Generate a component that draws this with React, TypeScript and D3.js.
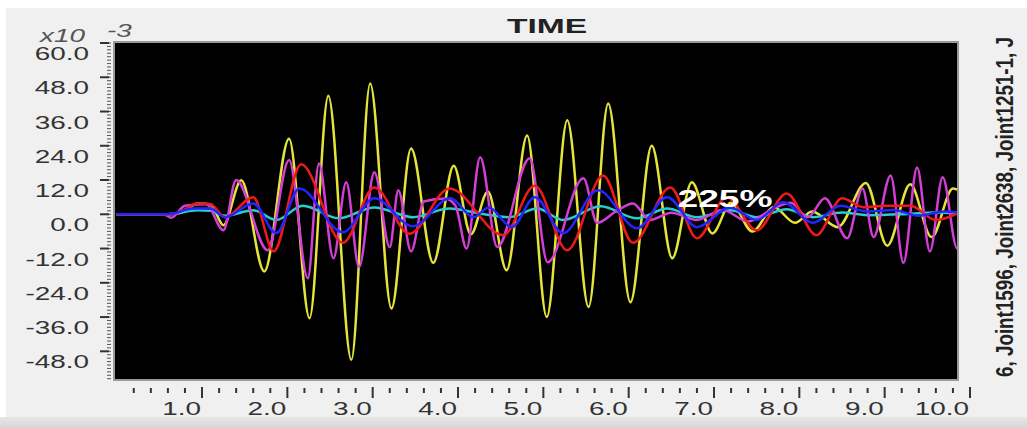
import React from "react";
import * as d3 from "d3";

// ---- data ----
const yTickValues = [60, 48, 36, 24, 12, 0, -12, -24, -36, -48];
const xTickValues = [1, 2, 3, 4, 5, 6, 7, 8, 9, 10];

const yellowT = [0, 0.6, 0.75, 0.95, 1.1, 1.25, 1.46, 1.73, 2.02, 2.26, 2.48, 2.75, 2.97, 3.22, 3.45, 3.71, 3.95, 4.15, 4.35, 4.57, 4.81, 5.04, 5.28, 5.53, 5.76, 6.02, 6.27, 6.51, 6.74, 6.98, 7.2, 7.45, 7.7, 7.95, 8.15, 8.45, 8.78, 9.03, 9.3, 9.55, 9.8, 9.9];
const yellowV = [0, 0, 0.5, 3.8, 3.5, -3.8, 11.9, -20, 26.5, -36.4, 41.5, -51, 45.8, -33, 23, -17, 17, -7, 8, -19.6, 27.6, -36, 32.9, -32.5, 38.8, -30.8, 24, -15.4, 11.2, -6.7, 4, -6, 2.5, -3, 1, -4.5, 11, -11, 10.5, -8, 9, 8];

const magentaT = [0, 0.55, 0.64, 0.8, 1.05, 1.25, 1.4, 1.77, 2.02, 2.24, 2.37, 2.54, 2.69, 2.84, 3.02, 3.2, 3.3, 3.45, 3.6, 3.85, 3.97, 4.1, 4.26, 4.46, 4.84, 5.05, 5.47, 5.63, 5.85, 6.05, 6.25, 6.5, 6.8, 7.1, 7.4, 7.7, 7.9, 8.1, 8.3, 8.56, 8.74, 8.87, 9.07, 9.22, 9.38, 9.53, 9.68, 9.85, 9.9];
const magentaV = [0, 0, -1.2, 3, 3.5, -5.6, 12, -12.6, 19, -22.4, 17.8, -15.4, 11.2, -18.5, 14.7, -11.5, 8.4, -13, 4.5, 5.5, 3, -12, 20, -11.5, 19.6, -16.8, 12.6, -3, 1, 3.8, -2, 0.5, -2, 1.5, -2.5, 2, 4, -1, 5.6, -8.4, 9, -8, 13.6, -17, 16.4, -13, 13, -12, -10];

const redT = [0, 0.6, 0.75, 0.95, 1.1, 1.27, 1.6, 1.84, 2.16, 2.65, 3.02, 3.43, 3.9, 4.53, 4.9, 5.28, 5.7, 6.05, 6.49, 6.8, 7.15, 7.5, 7.85, 8.2, 8.5, 8.75, 9.0, 9.3, 9.6, 9.9];
const redV = [0, 0, 1, 3.8, 3.5, -1, 6, -13, 17.5, -10, 9.4, -6.8, 9, -7.3, 10, -12.6, 13.6, -10, 9.4, -8.4, 6, -5.6, 7.3, -7.3, 5.6, 2.5, 3, 3, -2, 1];

const blueT = [0, 0.6, 0.9, 1.1, 1.27, 1.6, 1.87, 2.14, 2.65, 3.02, 3.47, 3.91, 4.18, 4.36, 4.63, 4.9, 5.23, 5.64, 6.1, 6.45, 6.8, 7.19, 7.5, 7.81, 8.16, 8.48, 8.8, 9.1, 9.4, 9.7, 9.9];
const blueV = [0, 0, 2, 2, -1, 3.8, -6.6, 9, -6.3, 5.6, -4.2, 5.6, -1, 2.4, -4.5, 6, -6.6, 8.4, -4.9, 6, -4.5, 2.4, -2, 4.2, -3, 3, 1, 1.5, -0.5, 1, 0.5];

const cyanT = [0, 0.6, 0.95, 1.1, 1.27, 1.6, 1.87, 2.18, 2.6, 3.02, 3.47, 3.9, 4.25, 4.6, 4.93, 5.23, 5.67, 6.1, 6.45, 6.8, 7.19, 7.5, 7.85, 8.16, 8.5, 8.8, 9.2, 9.6, 9.9];
const cyanV = [0, 0, 1.4, 1.2, -0.5, 1.4, -2, 3, -1.4, 2.4, -1, 2, 0.3, -1, 2, -2, 2.8, -1.4, 2, -1, 1.4, -1, 1.8, -1, 0.6, -0.3, 0, 0.6, 0.3];

const series = [
  { name: "yellow", t: yellowT, v: yellowV, color: "#e4e43a" },
  { name: "cyan", t: cyanT, v: cyanV, color: "#25cfd0" },
  { name: "magenta", t: magentaT, v: magentaV, color: "#d23ed6" },
  { name: "red", t: redT, v: redV, color: "#ee1a1a" },
  { name: "blue", t: blueT, v: blueV, color: "#2424ff" },
];

const W = 1027;
const H = 428;
const PX0 = 115;
const PX1 = 957;
const PY0 = 43;
const PY1 = 379;
const SX = 1.55;

export default function App() {
  const x = d3.scaleLinear().domain([0, 10]).range([116.7, 970]);
  const y = d3.scaleLinear().domain([-57.7, 60]).range([PY1, PY0]);

  const line = d3
    .line<[number, number]>()
    .x((d) => x(d[0]))
    .y((d) => y(d[1]))
    .curve(d3.curveMonotoneX);

  const yMinor = d3.range(0, 99).map((i) => 60 - 1.2 * i).filter((v) => v >= -57.7);
  const xMinor = d3.range(1, 51).map((i) => i * 0.2).filter((v, i) => (i + 1) % 5 !== 0);

  const font = "'Liberation Sans', Arial, sans-serif";

  return (
    <div style={{ position: "fixed", left: 0, top: 0 }}>
      <svg width={W} height={H} style={{ display: "block" }}>
        <defs>
          <clipPath id="plotclip">
            <rect x={PX0} y={PY0} width={PX1 - PX0} height={PY1 - PY0} />
          </clipPath>
          <linearGradient id="botgrad" x1="0" y1="0" x2="0" y2="1">
            <stop offset="0" stopColor="#e6e6e6" />
            <stop offset="1" stopColor="#d6d6d6" />
          </linearGradient>
        </defs>
        <rect x={0} y={0} width={W} height={H} fill="#ffffff" />
        <rect x={6} y={8} width={W - 6} height={H - 8} fill="#f0f0f0" />
        <rect x={0} y={417} width={W} height={H - 417} fill="url(#botgrad)" />

        {/* plot area */}
        <rect x={PX0 - 2} y={PY0 - 2} width={PX1 - PX0 + 4} height={PY1 - PY0 + 4} fill="#9a9a9a" />
        <rect x={PX0} y={PY0} width={PX1 - PX0} height={PY1 - PY0} fill="#000000" />

        <g clipPath="url(#plotclip)">
          {series.map((s) => (
            <path
              key={s.name}
              d={line(s.t.map((t, i) => [t, s.v[i]] as [number, number])) || ""}
              fill="none"
              stroke={s.color}
              strokeWidth={2.5}
              strokeLinejoin="round"
            />
          ))}
        </g>

        {/* y axis ticks */}
        {yMinor.map((v, i) => (
          <line key={"ym" + i} x1={107} x2={111} y1={y(v)} y2={y(v)} stroke="#555" strokeWidth={1} />
        ))}
        {yTickValues.map((v) => (
          <g key={"yt" + v}>
            <line x1={100} x2={109} y1={y(v)} y2={y(v)} stroke="#333" strokeWidth={2} />
            <text
              transform={`translate(89,${y(v) + 17}) scale(${SX},1)`}
              textAnchor="end"
              fontFamily={font}
              fontSize={18}
              fill="#333"
            >
              {v.toFixed(1)}
            </text>
          </g>
        ))}

        {/* x axis ticks */}
        {xMinor.map((v, i) => (
          <line key={"xm" + i} x1={x(v)} x2={x(v)} y1={388} y2={393} stroke="#333" strokeWidth={2} />
        ))}
        {xTickValues.map((v) => (
          <g key={"xt" + v}>
            <line x1={x(v)} x2={x(v)} y1={387} y2={398} stroke="#333" strokeWidth={2} />
            <text
              transform={`translate(${x(v) - 1},415) scale(${SX},1)`}
              textAnchor="end"
              fontFamily={font}
              fontSize={18}
              fill="#333"
            >
              {v.toFixed(1)}
            </text>
          </g>
        ))}

        {/* title */}
        <text
          transform={`translate(547,33) scale(1.6,1)`}
          textAnchor="middle"
          fontFamily={font}
          fontSize={21}
          fontWeight="bold"
          fill="#222"
        >
          TIME
        </text>

        {/* exponent label */}
        <text transform={`translate(40,42) scale(${SX},1)`} fontFamily={font} fontSize={18} fontStyle="italic" fill="#555">
          x10
        </text>
        <text transform={`translate(107,37) scale(${SX},1)`} fontFamily={font} fontSize={18} fontStyle="italic" fill="#555">
          -3
        </text>

        {/* right rotated label */}
        <text
          transform="translate(1013,377) rotate(-90) scale(1,1.25)"
          fontFamily={font}
          fontSize={19}
          fontWeight="bold"
          fill="#222"
          textLength={340}
          lengthAdjust="spacingAndGlyphs"
        >
          6, Joint1596, Joint2638, Joint1251-1, J
        </text>

        {/* overlay percent */}
        <text
          transform={`translate(725,207) scale(${SX},1)`}
          textAnchor="middle"
          fontFamily={font}
          fontSize={24}
          fontWeight="bold"
          fill="#ffffff"
        >
          225%
        </text>
      </svg>
    </div>
  );
}
